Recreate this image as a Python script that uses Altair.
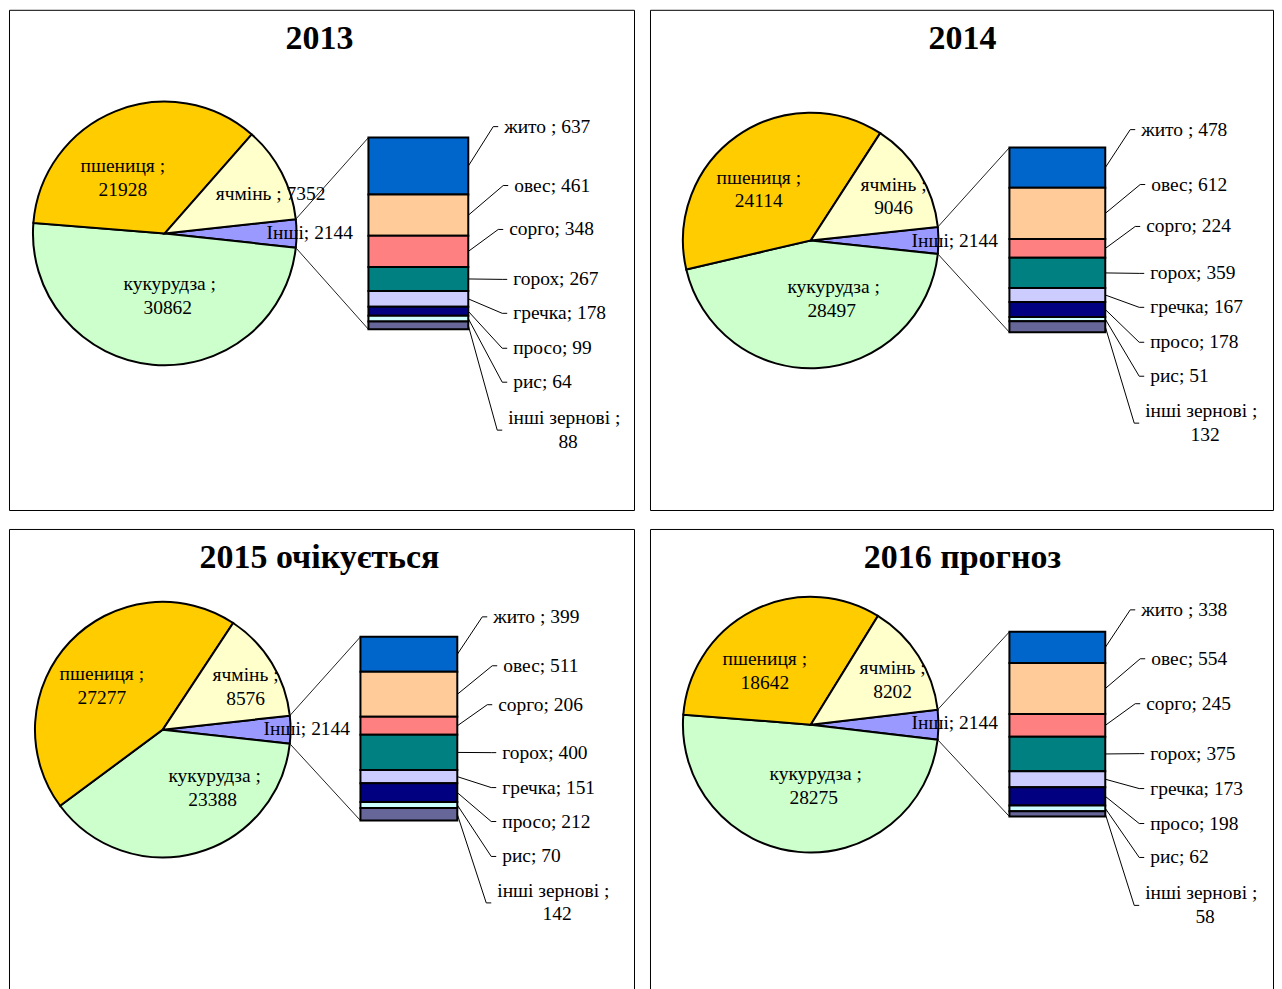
import math
import altair as alt
import pandas as pd

# ---------------- data ----------------
titles = ["2013", "2014", "2015 очікується", "2016 прогноз"]

pie_names = ["Інші", "кукурудза", "пшениця", "ячмінь"]   # clockwise order from the right
other = [2144, 2144, 2144, 2144]
corn = [30862, 28497, 23388, 28275]
wheat = [21928, 24114, 27277, 18642]
barley = [7352, 9046, 8576, 8202]

bar_names = ["жито", "овес", "сорго", "горох", "гречка", "просо", "рис", "інші зернові"]
rye = [637, 478, 399, 338]
oats = [461, 612, 511, 554]
sorghum = [348, 224, 206, 245]
peas = [267, 359, 400, 375]
buckwheat = [178, 167, 151, 173]
millet = [99, 178, 212, 198]
rice = [64, 51, 70, 62]
other_grain = [88, 132, 142, 58]
bar_series = [rye, oats, sorghum, peas, buckwheat, millet, rice, other_grain]

# ---------------- styles ----------------
pie_colors = ["#9999FF", "#CCFFCC", "#FFCC00", "#FFFFCC"]
bar_colors = ["#0066CC", "#FFCC99", "#FF8080", "#008080", "#CCCCFF", "#000080", "#CCFFFF", "#666699"]
bar_seps = [" ; ", "; ", "; ", "; ", "; ", "; ", "; ", " ;"]
FONT = "Liberation Serif"
FS = 19.5
TFS = 34
H = 501
LABEL_DX = [-10, 0, -5, -1, -1, -1, -1, -6]

# ---------------- layout (pixels inside each panel) ----------------
LAYOUT = [
    dict(w=626, tx=311, cx=156, cy=224, r=132, bx0=360, bx1=460, by0=128, by1=320,
         ly=[117, 176, 220, 270, 304, 339, 373, 409], ly2=433,
         wheat=(114, 156), barley=(262, 184), corn=(161, 275), oth=(258, 224), barley_one=True),
    dict(w=624, tx=313, cx=161, cy=231, r=128, bx0=360, bx1=456, by0=138, by1=323,
         ly=[120, 175, 217, 264, 298, 333, 367, 402], ly2=426,
         wheat=(109, 168), barley=(244, 175), corn=(184, 278), oth=(262, 232), barley_one=False),
    dict(w=626, tx=311, cx=154, cy=201, r=128, bx0=352, bx1=449, by0=108, by1=292,
         ly=[88, 137, 176, 224, 259, 293, 328, 363], ly2=386,
         wheat=(93, 145), barley=(237, 146), corn=(206, 247), oth=(255, 200), barley_one=False),
    dict(w=624, tx=313, cx=161, cy=196, r=128, bx0=360, bx1=456, by0=103, by1=288,
         ly=[81, 130, 175, 225, 260, 295, 329, 365], ly2=389,
         wheat=(115, 130), barley=(243, 139), corn=(166, 245), oth=(262, 194), barley_one=False),
]

YS = alt.Scale(domain=[0, H], reverse=True, nice=False, zero=False)


def panel(k):
    L = LAYOUT[k]
    W = L["w"]
    XS = alt.Scale(domain=[0, W], nice=False, zero=False)

    def px(field):
        return alt.X(field, type="quantitative", scale=XS, axis=None)

    def py(field):
        return alt.Y(field, type="quantitative", scale=YS, axis=None)

    pv = [other[k], corn[k], wheat[k], barley[k]]
    tot = sum(pv)
    half = math.pi * other[k] / tot
    start = math.pi / 2 - half

    pie_df = pd.DataFrame({"name": pie_names, "value": pv, "idx": list(range(4))})
    pie = alt.Chart(pie_df).mark_arc(radius=L["r"], stroke="black", strokeWidth=2).encode(
        theta=alt.Theta("value:Q", stack=True,
                        scale=alt.Scale(domain=[0, tot], range=[start, start + 2 * math.pi], nice=False)),
        color=alt.Color("name:N", scale=alt.Scale(domain=pie_names, range=pie_colors), legend=None),
        order=alt.Order("idx:Q"),
        x=alt.value(L["cx"]),
        y=alt.value(L["cy"]),
    )

    # connectors from the "Інші" slice to the bar
    ex = L["cx"] + L["r"] * math.cos(half)
    conn_df = pd.DataFrame({
        "x": [ex, ex], "y": [L["cy"] - L["r"] * math.sin(half), L["cy"] + L["r"] * math.sin(half)],
        "x2": [L["bx0"], L["bx0"]], "y2": [L["by0"], L["by1"]],
    })
    conn = alt.Chart(conn_df).mark_rule(color="#222222", strokeWidth=1).encode(
        x=px("x"), y=py("y"), x2="x2:Q", y2="y2:Q")

    bv = [s[k] for s in bar_series]
    bsum = sum(bv)
    bh = L["by1"] - L["by0"]
    bar_df = pd.DataFrame({"name": bar_names, "value": bv, "idx": list(range(8))})
    bar = alt.Chart(bar_df).transform_joinaggregate(
        total="sum(value)"
    ).transform_stack(
        stack="value", groupby=[], as_=["s0", "s1"], sort=[alt.SortField("idx", order="ascending")]
    ).transform_calculate(
        ya=f"{L['by0']} + datum.s0 / datum.total * {bh}",
        yb=f"{L['by0']} + datum.s1 / datum.total * {bh}",
    ).mark_bar(stroke="black", strokeWidth=2).encode(
        x=alt.value(L["bx0"]), x2=alt.value(L["bx1"]),
        y=py("ya"), y2="yb:Q",
        fill=alt.Fill("name:N", scale=alt.Scale(domain=bar_names, range=bar_colors), legend=None),
    )

    # leader lines + bar labels
    rows, left_rows, center_rows = [], [], []
    cum = 0
    base = L["bx1"] + 46
    for i, v in enumerate(bv):
        mid = L["by0"] + (cum + v / 2) / bsum * bh
        cum += v
        lx = base + LABEL_DX[i]
        if i < 7:
            ly = L["ly"][i]
            left_rows.append(dict(x=lx, y=L["ly"][i], text=f"{bar_names[i]}{bar_seps[i]}{v}"))
        else:
            ly = (L["ly"][i] + L["ly2"]) / 2
            left_rows.append(dict(x=lx, y=L["ly"][i], text=f"{bar_names[i]}{bar_seps[i]}"))
            center_rows.append(dict(x=lx + 60, y=L["ly2"], text=f"{v}"))
        rows += [dict(id=i, pt=0, x=L["bx1"], y=mid),
                 dict(id=i, pt=1, x=lx - 11, y=ly),
                 dict(id=i, pt=2, x=lx - 6, y=ly)]
    lead = alt.Chart(pd.DataFrame(rows)).mark_line(color="black", strokeWidth=1).encode(
        x=px("x"), y=py("y"), detail="id:N", order="pt:Q")

    # pie labels
    wx, wy = L["wheat"]
    center_rows += [dict(x=wx, y=wy, text="пшениця ;"), dict(x=wx, y=wy + 24, text=f"{wheat[k]}")]
    bx, byy = L["barley"]
    if L["barley_one"]:
        center_rows.append(dict(x=bx, y=byy, text=f"ячмінь ; {barley[k]}"))
    else:
        center_rows += [dict(x=bx, y=byy, text="ячмінь ;"), dict(x=bx, y=byy + 24, text=f"{barley[k]}")]
    cx_, cy_ = L["corn"]
    center_rows += [dict(x=cx_, y=cy_, text="кукурудза ;"), dict(x=cx_ - 2, y=cy_ + 24, text=f"{corn[k]}")]
    ox, oy = L["oth"]
    left_rows.append(dict(x=ox, y=oy, text=f"Інші; {other[k]}"))

    tl = alt.Chart(pd.DataFrame(left_rows)).mark_text(
        align="left", baseline="middle", font=FONT, fontSize=FS, color="black").encode(
        x=px("x"), y=py("y"), text="text:N")
    tc = alt.Chart(pd.DataFrame(center_rows)).mark_text(
        align="center", baseline="middle", font=FONT, fontSize=FS, color="black").encode(
        x=px("x"), y=py("y"), text="text:N")

    title = alt.Chart(pd.DataFrame([dict(x=L["tx"], y=39, text=titles[k])])).mark_text(
        align="center", baseline="alphabetic", font=FONT, fontSize=TFS, fontWeight="bold",
        color="black").encode(x=px("x"), y=py("y"), text="text:N")

    return alt.layer(pie, conn, bar, lead, tl, tc, title).properties(width=W, height=H)


chart = alt.concat(
    panel(0), panel(1), panel(2), panel(3),
    columns=2, spacing={"row": 19, "column": 16}, bounds="flush",
).resolve_scale(theta="independent").properties(padding=0).configure_view(
    stroke="black", strokeWidth=1)

chart.save("out.html", embed_options={"renderer": "svg", "actions": False})
